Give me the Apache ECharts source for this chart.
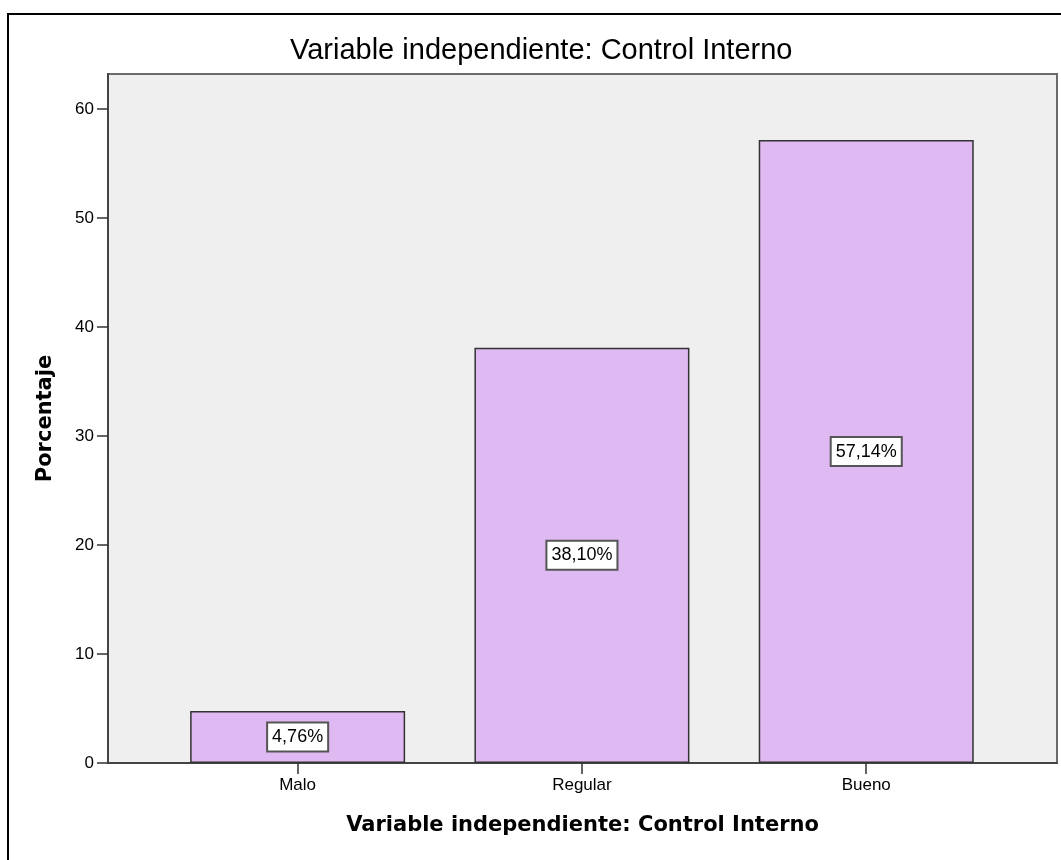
<!DOCTYPE html>
<html>
<head>
<meta charset="utf-8">
<script src="https://cdn.jsdelivr.net/npm/echarts@6/dist/echarts.min.js"></script>
<style>
html,body{margin:0;padding:0;background:#fff;}
#chart{width:1061px;height:860px;}
</style>
</head>
<body>
<div id="chart"></div>
<script>
const titleText = 'Variable independiente: Control Interno';
const xAxisTitle = 'Variable independiente: Control Interno';
const yAxisTitle = 'Porcentaje';
const categories = ['Malo', 'Regular', 'Bueno'];
const percentages = [4.76, 38.10, 57.14];
const yTicks = [0, 10, 20, 30, 40, 50, 60];
const xTickPositions = [0, 1, 2];

const chart = echarts.init(document.getElementById('chart'), null, {renderer: 'canvas'});
const barData = categories.map((c, i) => [i, percentages[i]]);

chart.setOption({
  animation: false,
  backgroundColor: '#ffffff',
  title: {
    text: titleText,
    left: 285,
    top: 31,
    textStyle: {fontFamily: 'Liberation Sans', fontWeight: 'normal', fontSize: 29, color: '#000'}
  },
  graphic: [{
    type: 'rect',
    shape: {x: 8, y: 14, width: 1200, height: 1000},
    style: {fill: 'none', stroke: '#000', lineWidth: 2},
    silent: true
  }],
  grid: {
    left: 108, top: 74, right: 4, bottom: 97,
    show: true, backgroundColor: '#efefef', borderColor: '#6a6a6a', borderWidth: 2
  },
  xAxis: {
    type: 'value',
    min: -0.667,
    max: 2.671,
    name: xAxisTitle,
    nameLocation: 'middle',
    nameGap: 52,
    nameTextStyle: {fontFamily: 'DejaVu Sans', fontWeight: 'bold', fontSize: 21, color: '#000'},
    axisLine: {show: true, onZero: false, lineStyle: {color: '#444', width: 2}},
    axisTick: {show: true, length: 11, customValues: xTickPositions, lineStyle: {color: '#333', width: 1.5}},
    axisLabel: {
      customValues: xTickPositions,
      margin: 14,
      fontFamily: 'Liberation Sans', fontSize: 17, color: '#000',
      formatter: v => categories[Math.round(v)] || ''
    },
    splitLine: {show: false}
  },
  yAxis: {
    type: 'value',
    min: 0,
    max: 63.2,
    name: yAxisTitle,
    nameLocation: 'middle',
    nameGap: 52,
    nameTextStyle: {fontFamily: 'DejaVu Sans', fontWeight: 'bold', fontSize: 21, color: '#000'},
    axisLine: {show: true, onZero: false, lineStyle: {color: '#444', width: 2}},
    axisTick: {show: true, length: 11, customValues: yTicks, lineStyle: {color: '#333', width: 1.5}},
    axisLabel: {
      customValues: yTicks,
      margin: 14,
      fontFamily: 'Liberation Sans', fontSize: 17, color: '#000'
    },
    splitLine: {show: false}
  },
  series: [{
    type: 'bar',
    data: barData,
    barWidth: 215,
    itemStyle: {color: '#dfb9f1', borderColor: '#333', borderWidth: 1.5},
    label: {
      show: true,
      position: 'inside',
      formatter: p => p.value[1].toFixed(2).replace('.', ',') + '%',
      fontFamily: 'Liberation Sans', fontSize: 18, color: '#000',
      backgroundColor: '#fff',
      borderColor: '#555', borderWidth: 2,
      padding: [5, 4, 4, 4]
    }
  }]
});
</script>
</body>
</html>
